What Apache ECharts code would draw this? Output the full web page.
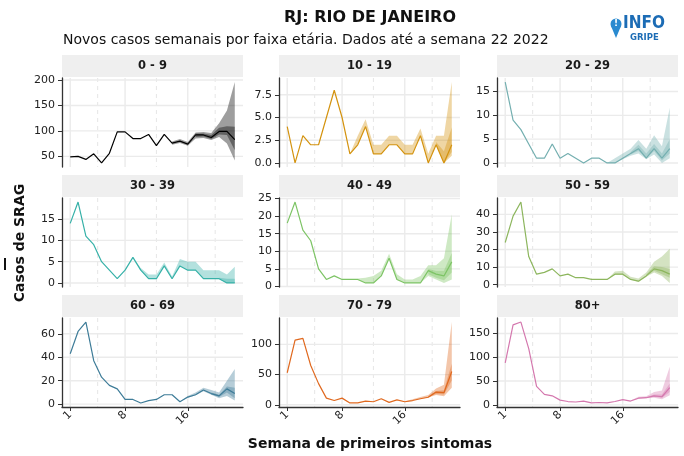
<!DOCTYPE html>
<html><head><meta charset="utf-8">
<script src="https://cdn.jsdelivr.net/npm/echarts@6/dist/echarts.min.js"></script>
<style>html,body{margin:0;padding:0;background:#fff}#c{width:684px;height:456px}</style>
</head><body><div id="c"></div><script>
const N = null;
const weeks = [1,2,3,4,5,6,7,8,9,10,11,12,13,14,15,16,17,18,19,20,21,22];
const xTicks = [1, 8, 16];
const xMinorTicks = [4.5, 12, 19.5];
const panelNames = ['0 - 9','10 - 19','20 - 29','30 - 39','40 - 49','50 - 59','60 - 69','70 - 79','80+'];
const panelColors = ['#000000','#D4930F','#74AFB0','#36B1A8','#7DC465','#8DB65E','#3E7C98','#E0691F','#D478AE'];

const cases09  = [49,50,44,55,37,56,98,98,85,85,93,71,93,76,80,74,92,92,87,99,99,83];
const lo95_09  = [N,N,N,N,N,N,N,N,N,N,N,N,N,73,76,71,85,86,82,88,75,42];
const hi95_09  = [N,N,N,N,N,N,N,N,N,N,N,N,N,79,84,78,97,98,96,115,140,196];
const lo50_09  = [N,N,N,N,N,N,N,N,N,N,N,N,N,N,N,N,88,89,84,93,92,62];
const hi50_09  = [N,N,N,N,N,N,N,N,N,N,N,N,N,N,N,N,95,95,92,106,109,108];
const yTicks09 = [50,100,150,200];

const cases1019 = [4,0,3,2,2,5,8,5,1,2,4,1,1,2,2,1,1,3,0,2,0,2];
const lo95_1019 = [N,N,N,N,N,N,N,N,1,2,4,1,1,2,2,1,1,3,0,2,0,0.8];
const hi95_1019 = [N,N,N,N,N,N,N,N,1,3,4.8,2,2,3,3,2,2,3.8,1,3,3,8.9];
const lo50_1019 = [N,N,N,N,N,N,N,N,N,N,N,N,N,N,N,N,N,N,N,2,0,1.2];
const hi50_1019 = [N,N,N,N,N,N,N,N,N,N,N,N,N,N,N,N,N,N,N,2.3,1.3,3.9];
const yTicks1019 = [0,2.5,5,7.5];

const cases2029 = [17,9,7,4,1,1,4,1,2,1,0,1,1,0,0,1,2,3,1,3,1,3];
const lo95_2029 = [N,N,N,N,N,N,N,N,N,N,N,N,N,0,0,0.8,1.5,2,0.8,1.8,0,1];
const hi95_2029 = [N,N,N,N,N,N,N,N,N,N,N,N,N,0,1,2,3,4.8,3,5.8,3.5,11.6];
const lo50_2029 = [N,N,N,N,N,N,N,N,N,N,N,N,N,N,N,N,1.8,2.5,1,2.5,0.5,2];
const hi50_2029 = [N,N,N,N,N,N,N,N,N,N,N,N,N,N,N,N,2.3,3.8,2,4,2,5];
const yTicks2029 = [0,5,10,15];

const cases3039 = [14,19,11,9,5,3,1,3,6,3,1,1,4,1,4,3,3,1,1,1,0,0];
const lo95_3039 = [N,N,N,N,N,N,N,N,6,3,1,1,4,1,4,3,3,1,1,1,0,0];
const hi95_3039 = [N,N,N,N,N,N,N,N,6,3.5,2,2,4.8,1.5,5.6,5,5,3,3,3,2,3.8];
const lo50_3039 = [N,N,N,N,N,N,N,N,N,N,N,N,N,N,N,N,N,N,N,1,0,0];
const hi50_3039 = [N,N,N,N,N,N,N,N,N,N,N,N,N,N,N,N,N,N,N,1.2,1,1];
const yTicks3039 = [0,5,10,15];

const cases4049 = [18,24,16,13,5,2,3,2,2,2,1,1,3,8,2,1,1,1,4.5,3.5,3,7];
const lo95_4049 = [N,N,N,N,N,N,N,N,N,2,1,1,3,8,2,1,1,1,3,2,1,2];
const hi95_4049 = [N,N,N,N,N,N,N,N,N,2.3,2.5,3,4.5,9.3,3.5,2,2,3,6,6,8,20.5];
const lo50_4049 = [N,N,N,N,N,N,N,N,N,N,N,N,N,N,N,N,N,N,3.5,2.5,1.8,4];
const hi50_4049 = [N,N,N,N,N,N,N,N,N,N,N,N,N,N,N,N,N,N,5,4.5,4.5,9.5];
const yTicks4049 = [0,5,10,15,20,25];

const cases5059 = [24,39,47,16,6,7,9,5,6,4,4,3,3,3,6,6,3,2,5,9,8,6];
const lo95_5059 = [N,N,N,N,N,N,N,N,N,N,N,N,N,3,5.5,5.5,3,1.5,4.5,7,5,1];
const hi95_5059 = [N,N,N,N,N,N,N,N,N,N,N,N,N,3,7.5,8,4.5,3.5,7,13,16,20.5];
const lo50_5059 = [N,N,N,N,N,N,N,N,N,N,N,N,N,N,N,N,N,N,5,8,6,4];
const hi50_5059 = [N,N,N,N,N,N,N,N,N,N,N,N,N,N,N,N,N,N,6,10.5,10,9];
const yTicks5059 = [0,10,20,30,40];

const cases6069 = [43,62,70,37,23,16,13,4,4,1,3,4,8,8,2,6,8,12,9,7,13,9];
const lo95_6069 = [N,N,N,N,N,N,N,N,N,N,N,N,N,N,2,5.5,7.5,11,8,5,7,3];
const hi95_6069 = [N,N,N,N,N,N,N,N,N,N,N,N,N,N,2,7,10,14,12,10,20,30];
const lo50_6069 = [N,N,N,N,N,N,N,N,N,N,N,N,N,N,N,N,N,N,8.5,6,10,5];
const hi50_6069 = [N,N,N,N,N,N,N,N,N,N,N,N,N,N,N,N,N,N,10,8,15,14];
const yTicks6069 = [0,20,40,60];

const cases7079 = [53,107,110,65,35,11,7,11,3,3,6,5,10,4,8,5,7,10,12.5,21,20,55];
const lo95_7079 = [N,N,N,N,N,N,N,N,N,N,N,N,N,N,8,5,7,10,12,16,14,28];
const hi95_7079 = [N,N,N,N,N,N,N,N,N,N,N,N,N,N,8,6,9,13,16,27,33,137];
const lo50_7079 = [N,N,N,N,N,N,N,N,N,N,N,N,N,N,N,N,N,N,12.5,18,17,40];
const hi50_7079 = [N,N,N,N,N,N,N,N,N,N,N,N,N,N,N,N,N,N,14,23,24,68];
const yTicks7079 = [0,50,100];

const cases80 = [88,168,174,118,39,22,19,10,7,6,8,4,5,4,7,11,8,14,15,19,17,36];
const lo95_80 = [N,N,N,N,N,N,N,N,N,N,N,N,N,N,N,N,8,13,14,15,12,20];
const hi95_80 = [N,N,N,N,N,N,N,N,N,N,N,N,N,N,N,N,9,17,18,27,30,80];
const lo50_80 = [N,N,N,N,N,N,N,N,N,N,N,N,N,N,N,N,N,N,14.5,17,15,27];
const hi50_80 = [N,N,N,N,N,N,N,N,N,N,N,N,N,N,N,N,N,N,16,22,22,45];
const yTicks80 = [0,50,100,150];

const panels = [
  {v:cases09, lo95:lo95_09, hi95:hi95_09, lo50:lo50_09, hi50:hi50_09, ticks:yTicks09},
  {v:cases1019, lo95:lo95_1019, hi95:hi95_1019, lo50:lo50_1019, hi50:hi50_1019, ticks:yTicks1019},
  {v:cases2029, lo95:lo95_2029, hi95:hi95_2029, lo50:lo50_2029, hi50:hi50_2029, ticks:yTicks2029},
  {v:cases3039, lo95:lo95_3039, hi95:hi95_3039, lo50:lo50_3039, hi50:hi50_3039, ticks:yTicks3039},
  {v:cases4049, lo95:lo95_4049, hi95:hi95_4049, lo50:lo50_4049, hi50:hi50_4049, ticks:yTicks4049},
  {v:cases5059, lo95:lo95_5059, hi95:hi95_5059, lo50:lo50_5059, hi50:hi50_5059, ticks:yTicks5059},
  {v:cases6069, lo95:lo95_6069, hi95:hi95_6069, lo50:lo50_6069, hi50:hi50_6069, ticks:yTicks6069},
  {v:cases7079, lo95:lo95_7079, hi95:hi95_7079, lo50:lo50_7079, hi50:hi50_7079, ticks:yTicks7079},
  {v:cases80, lo95:lo95_80, hi95:hi95_80, lo50:lo50_80, hi50:hi50_80, ticks:yTicks80}
];

// layout
const FONT = '"DejaVu Sans", sans-serif';
const colLeft = [62, 279, 497];
const rowTop = [78, 198, 318];
const PW = 181, PH = 89, STRIP = 22;
const XMIN = -0.05, XMAX = 23.05;

const grids = [], xAxes = [], yAxes = [], series = [], graphics = [];

function pairs(arr) { return weeks.map((w, k) => [w, arr[k] == null ? '-' : arr[k]]); }
function bandRows(lo, hi) {
  const rows = [];
  weeks.forEach((w, k) => { if (lo[k] != null && hi[k] != null) rows.push([w, lo[k], hi[k]]); });
  return rows;
}

panels.forEach((p, i) => {
  const row = Math.floor(i / 3), col = i % 3;
  const left = colLeft[col], top = rowTop[row];
  const bottomRow = row === 2;
  grids.push({left: left, top: top, width: PW, height: PH, containLabel: false});
  const all = p.v.concat(p.lo95, p.hi95).filter(x => x != null);
  const mn = Math.min.apply(null, all), mx = Math.max.apply(null, all);
  const pad = (mx - mn) * 0.05;
  const ymin = mn - pad, ymax = mx + pad;
  const dec = p.ticks.some(t => !Number.isInteger(t)) ? 1 : 0;
  xAxes.push({
    gridIndex: i, type: 'value', min: XMIN, max: XMAX,
    axisLine: {show: bottomRow, onZero: false, lineStyle: {color: '#333', width: 1.3}},
    axisTick: {show: bottomRow, customValues: xTicks, length: 4, lineStyle: {color: '#333', width: 1}},
    axisLabel: {show: bottomRow, customValues: xTicks, rotate: 45, fontSize: 11, color: '#222', fontFamily: FONT, margin: 6},
    splitLine: {show: false}
  });
  yAxes.push({
    gridIndex: i, type: 'value', min: ymin, max: ymax,
    axisLine: {show: true, onZero: false, lineStyle: {color: '#333', width: 1.3}},
    axisTick: {show: true, customValues: p.ticks, length: 4, lineStyle: {color: '#333', width: 1}},
    axisLabel: {customValues: p.ticks, fontSize: 11, color: '#222', fontFamily: FONT, margin: 7,
      formatter: v => Number(v).toFixed(dec)},
    splitLine: {show: false}
  });
  // grid lines
  const gdata = [];
  xTicks.forEach(x => gdata.push([x, ymin, 0]));
  xMinorTicks.forEach(x => gdata.push([x, ymin, 1]));
  p.ticks.forEach(y => gdata.push([XMIN, y, 2]));
  series.push({
    type: 'custom', xAxisIndex: i, yAxisIndex: i, silent: true, z: 0, clip: false,
    data: gdata,
    renderItem: function (params, api) {
      const cs = params.coordSys;
      const kind = api.value(2);
      const pt = api.coord([api.value(0), api.value(1)]);
      if (kind < 2) {
        return {type: 'line', shape: {x1: pt[0], y1: cs.y, x2: pt[0], y2: cs.y + cs.height},
          style: {stroke: kind === 0 ? '#EBEBEB' : '#E6E6E6', lineWidth: kind === 0 ? 1.4 : 1, lineDash: kind === 0 ? null : [4, 4]}};
      }
      return {type: 'line', shape: {x1: cs.x, y1: pt[1], x2: cs.x + cs.width, y2: pt[1]},
        style: {stroke: '#EBEBEB', lineWidth: 1.4}};
    }
  });
  const color = panelColors[i];
  [bandRows(p.lo95, p.hi95), bandRows(p.lo50, p.hi50)].forEach(rows => {
    series.push({
      type: 'custom', xAxisIndex: i, yAxisIndex: i, silent: true, z: 2,
      data: rows,
      renderItem: function (params, api) {
        if (params.dataIndex !== 0) return null;
        const upper = rows.map(r => api.coord([r[0], r[2]]));
        const lower = rows.map(r => api.coord([r[0], r[1]])).reverse();
        return {type: 'polygon', shape: {points: upper.concat(lower)},
          style: {fill: color, opacity: 0.38}};
      }
    });
  });
  series.push({type: 'line', xAxisIndex: i, yAxisIndex: i, data: pairs(p.v), symbol: 'none', silent: true,
    lineStyle: {color: color, width: 1.2}, z: 3});
  // strip
  graphics.push({type: 'rect', shape: {x: left, y: top - STRIP - 1, width: PW, height: STRIP}, style: {fill: '#EFEFEF'}, silent: true});
  graphics.push({type: 'text', x: left + PW / 2, y: top - STRIP / 2 - 1, silent: true,
    style: {text: panelNames[i], font: 'bold 11.5px ' + FONT, fill: '#1a1a1a', align: 'center', verticalAlign: 'middle'}});
});

// titles and labels
graphics.push({type: 'text', x: 370, y: 18, style: {text: 'RJ: RIO DE JANEIRO', font: 'bold 16px ' + FONT, fill: '#111', align: 'center', verticalAlign: 'middle'}});
graphics.push({type: 'text', x: 63, y: 40, style: {text: 'Novos casos semanais por faixa etária. Dados até a semana 22 2022', font: '14px ' + FONT, fill: '#111', align: 'left', verticalAlign: 'middle'}});
graphics.push({type: 'text', x: 20, y: 243, rotation: Math.PI / 2, style: {text: 'Casos de SRAG', font: 'bold 14px ' + FONT, fill: '#111', align: 'center', verticalAlign: 'middle'}});
graphics.push({type: 'text', x: 370, y: 444, style: {text: 'Semana de primeiros sintomas', font: 'bold 14px ' + FONT, fill: '#111', align: 'center', verticalAlign: 'middle'}});
// logo
graphics.push({type: 'circle', shape: {cx: 616, cy: 24, r: 5.5}, style: {fill: '#2A8AD0'}});
graphics.push({type: 'polygon', shape: {points: [[611, 26], [621, 26], [616, 38]]}, style: {fill: '#2A8AD0'}});
graphics.push({type: 'text', x: 616, y: 24, style: {text: '!', font: 'bold 9px ' + FONT, fill: '#fff', align: 'center', verticalAlign: 'middle'}});
graphics.push({type: 'text', x: 623, y: 24, style: {text: 'INFO', font: 'bold 17px "DejaVu Sans Condensed", ' + FONT, fill: '#1C6CB5', align: 'left', verticalAlign: 'middle'}});
graphics.push({type: 'text', x: 630, y: 37.5, style: {text: 'GRIPE', font: 'bold 8.5px ' + FONT, fill: '#1C6CB5', align: 'left', verticalAlign: 'middle'}});
// edge marks
graphics.push({type: 'line', shape: {x1: 5, y1: 258, x2: 5, y2: 270}, style: {stroke: '#111', lineWidth: 2}});

const chart = echarts.init(document.getElementById('c'), null, {renderer: 'canvas'});
chart.setOption({
  animation: false,
  backgroundColor: '#fff',
  grid: grids, xAxis: xAxes, yAxis: yAxes, series: series, graphic: graphics
});
</script></body></html>
